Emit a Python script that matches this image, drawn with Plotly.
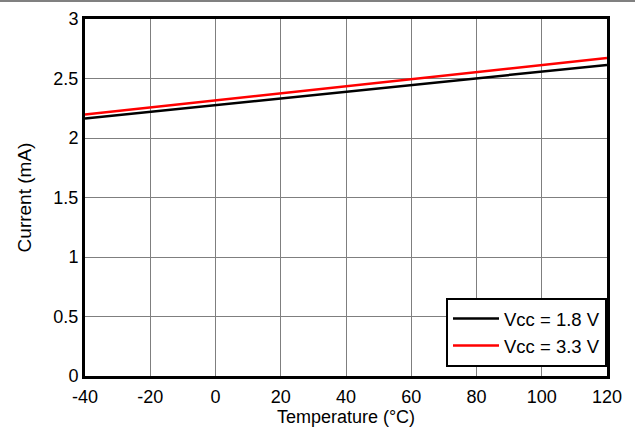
import plotly.graph_objects as go

temperature = [-40, -20, 0, 20, 40, 60, 80, 100, 120]
current_18v = [2.163, 2.219, 2.276, 2.332, 2.389, 2.445, 2.501, 2.558, 2.614]
current_33v = [2.197, 2.257, 2.316, 2.376, 2.435, 2.494, 2.554, 2.614, 2.673]
x_ticks = [-40, -20, 0, 20, 40, 60, 80, 100, 120]
x_tick_labels = ["-40", "-20", "0", "20", "40", "60", "80", "100", "120"]
y_ticks = [0, 0.5, 1, 1.5, 2, 2.5, 3]
y_tick_labels = ["0", "0.5", "1", "1.5", "2", "2.5", "3"]

L, R, T, B = 85, 28, 19, 55
W, H = 635, 431
pw, ph = W - L - R, H - T - B

fig = go.Figure()
fig.add_trace(go.Scatter(x=temperature, y=current_18v, mode="lines",
                         name="Vcc = 1.8 V", line=dict(color="black", width=2.5)))
fig.add_trace(go.Scatter(x=temperature, y=current_33v, mode="lines",
                         name="Vcc = 3.3 V", line=dict(color="#ff0000", width=2.5)))

fam = "Liberation Sans, Arial, sans-serif"
font = dict(family=fam, size=18, color="black")

fig.update_layout(
    width=W, height=H,
    margin=dict(l=L, r=R, t=T, b=B, autoexpand=False),
    paper_bgcolor="white", plot_bgcolor="white",
    font=font,
    showlegend=True,
    legend=dict(x=1, xanchor="right", y=9 / ph, yanchor="bottom",
                bordercolor="black", borderwidth=2, bgcolor="white",
                font=dict(family=fam, size=18.5, color="black"),
                tracegroupgap=0, itemwidth=46),
    xaxis=dict(range=[-40, 120], tickvals=x_ticks, ticktext=x_tick_labels,
               ticks="", showgrid=True, automargin=False,
               gridcolor="#7f7f7f", gridwidth=1, zeroline=False,
               showline=True, linecolor="black", linewidth=3, mirror=True,
               title=dict(text="Temperature (°C)", standoff=5, font=dict(size=18)),
               ticklabelstandoff=2, tickfont=dict(size=18)),
    yaxis=dict(range=[0, 3], tickvals=y_ticks, ticktext=y_tick_labels, ticks="",
               showgrid=True, automargin=False,
               gridcolor="#7f7f7f", gridwidth=1, zeroline=False,
               showline=True, linecolor="black", linewidth=3, mirror=True,
               title=dict(text="Current (mA)", standoff=17, font=dict(size=19)),
               tickfont=dict(size=18)),
    shapes=[dict(type="line", xref="paper", yref="paper",
                 x0=-L / pw, x1=1 + R / pw,
                 y0=1 + (T - 1) / ph, y1=1 + (T - 1) / ph,
                 line=dict(color="#808080", width=2))],
)

fig.write_html("out.html", config={"displayModeBar": False},
               post_script="document.body.style.margin='0';")
